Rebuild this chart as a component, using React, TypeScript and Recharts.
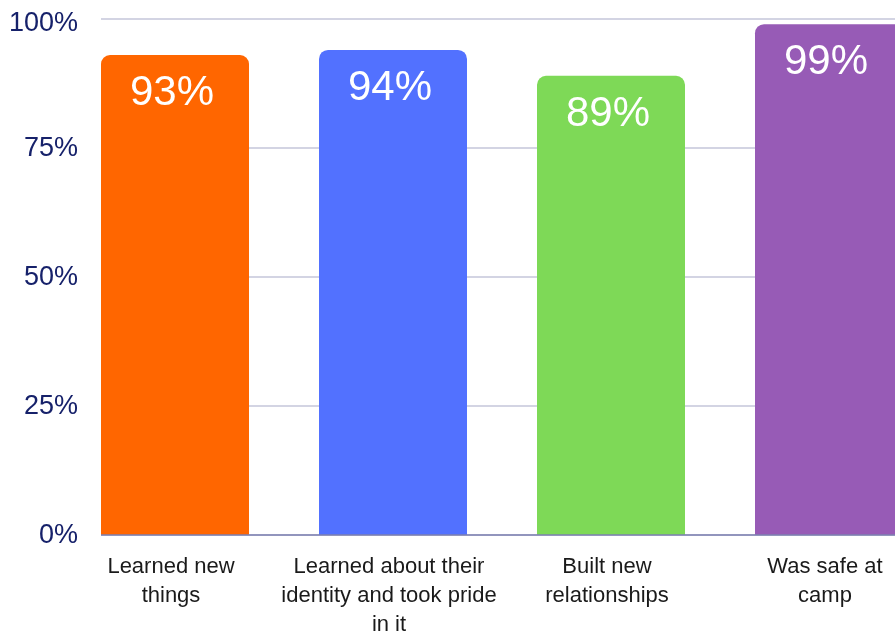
import { BarChart, Bar, XAxis, YAxis, CartesianGrid, Cell, LabelList } from 'recharts'

const categories = [
  'Learned new\nthings',
  'Learned about their\nidentity and took pride\nin it',
  'Built new\nrelationships',
  'Was safe at\ncamp',
]
const values = [93, 94, 89, 99]
const colors = ['#ff6600', '#5271ff', '#7ed957', '#975bb6']
const yTicks = [0, 25, 50, 75, 100]

const data = categories.map((name, i) => ({ name, value: values[i] }))

const FONT = '"Liberation Sans", Arial, sans-serif'

function CategoryTick(props: any) {
  const { x, y, payload } = props
  const lines: string[] = String(payload.value).split('\n')
  return (
    <text x={x} y={y} textAnchor="middle" fill="#1a1a1a" fontSize={22} fontFamily={FONT}>
      {lines.map((line, i) => (
        <tspan key={i} x={x - 4} y={y + 38 + i * 29}>
          {line}
        </tspan>
      ))}
    </text>
  )
}

function ValueLabel(props: any) {
  const { x, y, width, value } = props
  return (
    <text
      x={x + width / 2 - 3}
      y={y + 50}
      textAnchor="middle"
      fill="#ffffff"
      fontSize={42}
      fontFamily={FONT}
    >
      {value}%
    </text>
  )
}

export default function App() {
  return (
    <div
      style={{
        position: 'fixed',
        top: 8,
        left: 8,
        width: 887,
        height: 627,
        overflow: 'hidden',
        fontFamily: FONT,
      }}
    >
      <BarChart
        width={930}
        height={627}
        data={data}
        margin={{ top: 11, right: 0, bottom: 0, left: 0 }}
      >
        <CartesianGrid horizontal vertical={false} stroke="#c5c6da" strokeWidth={1.5} />
        <XAxis
          dataKey="name"
          interval={0}
          padding={{ left: -35, right: 0 }}
          axisLine={{ stroke: '#7c80b0', strokeWidth: 1.5 }}
          tickLine={false}
          tickSize={0}
          tickMargin={0}
          height={100}
          tick={<CategoryTick />}
        />
        <YAxis
          domain={[0, 100]}
          ticks={yTicks}
          tickFormatter={(v: number) => `${v}%`}
          width={93}
          axisLine={false}
          tickLine={false}
          tickSize={0}
          tickMargin={23}
          tick={{ fill: '#16216a', fontSize: 27, fontFamily: FONT, dy: -2 }}
        />
        <Bar dataKey="value" barSize={148} radius={[9, 9, 0, 0]} isAnimationActive={false}>
          {data.map((_, i) => (
            <Cell key={i} fill={colors[i]} />
          ))}
          <LabelList dataKey="value" content={<ValueLabel />} />
        </Bar>
      </BarChart>
    </div>
  )
}
